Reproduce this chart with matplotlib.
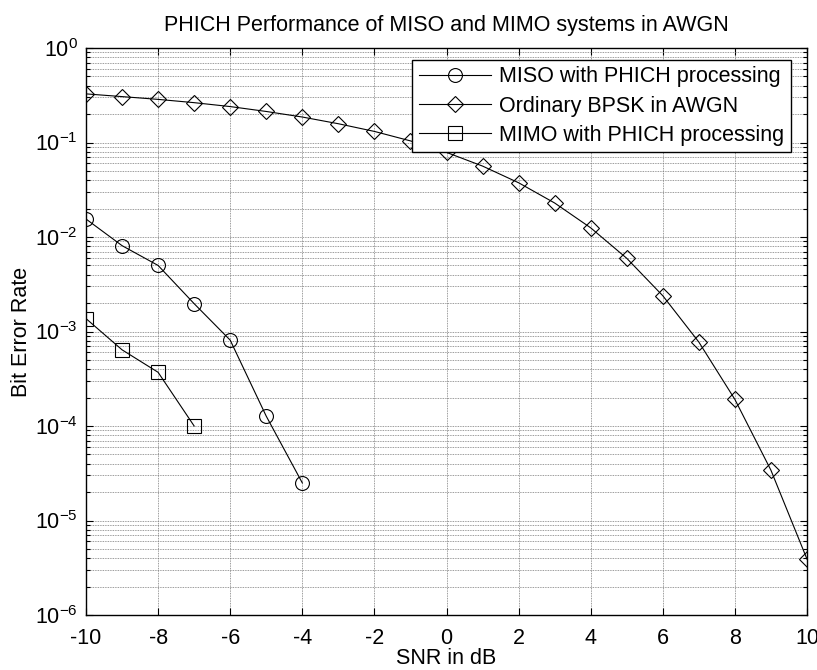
import math
import matplotlib
matplotlib.use("Agg")
import matplotlib.pyplot as plt
from matplotlib.ticker import LogLocator, FixedLocator, NullFormatter, FuncFormatter

plt.rcParams['font.family'] = ['Liberation Sans', 'DejaVu Sans']
plt.rcParams['mathtext.fontset'] = 'custom'
plt.rcParams['mathtext.rm'] = 'Liberation Sans'
plt.rcParams['mathtext.it'] = 'Liberation Sans:italic'
plt.rcParams['mathtext.bf'] = 'Liberation Sans:bold'
plt.rcParams['axes.unicode_minus'] = False

# ---- data ----
snr_bpsk = [-10, -9, -8, -7, -6, -5, -4, -3, -2, -1, 0, 1, 2, 3, 4, 5, 6, 7, 8, 9, 10]
ber_bpsk = [0.327, 0.306, 0.286, 0.264, 0.240, 0.213, 0.186, 0.158, 0.131, 0.104,
            0.0786, 0.0563, 0.0375, 0.0229, 0.0125, 0.00595, 0.00239, 0.000773,
            0.000191, 3.4e-5, 3.9e-6]
snr_miso = [-10, -9, -8, -7, -6, -5, -4]
ber_miso = [0.0155, 0.0081, 0.0050, 0.00197, 0.00081, 0.000127, 2.5e-5]
snr_mimo = [-10, -9, -8, -7]
ber_mimo = [0.00137, 0.00064, 0.00037, 0.0001]

labels = ['MISO with PHICH processing', 'Ordinary BPSK in AWGN', 'MIMO with PHICH processing']
x_ticks = [-10, -8, -6, -4, -2, 0, 2, 4, 6, 8, 10]
title = 'PHICH Performance of MISO and MIMO systems in AWGN'
xlabel = 'SNR in dB'
ylabel = 'Bit Error Rate'

FS = 15.5

fig = plt.figure(figsize=(8.17, 6.70), dpi=100)
ax = fig.add_axes([86/817, 1-615/670, (807-86)/817, (615-48)/670])

lw = 0.8
ax.semilogy(snr_miso, ber_miso, '-o', color='black', lw=lw, mfc='none', mec='black',
            ms=10, mew=0.8, label=labels[0], zorder=3)
ax.semilogy(snr_bpsk, ber_bpsk, '-D', color='black', lw=lw, mfc='none', mec='black',
            ms=8.5, mew=0.8, label=labels[1], zorder=3)
ax.semilogy(snr_mimo, ber_mimo, '-s', color='black', lw=lw, mfc='none', mec='black',
            ms=10, mew=0.8, label=labels[2], zorder=3)

ax.set_xlim(-10, 10)
ax.set_ylim(1e-6, 1)
ax.xaxis.set_major_locator(FixedLocator(x_ticks))
ax.yaxis.set_major_locator(LogLocator(base=10, numticks=10))
ax.yaxis.set_minor_locator(LogLocator(base=10, subs=range(2, 10), numticks=10))
ax.yaxis.set_minor_formatter(NullFormatter())
ax.yaxis.set_major_formatter(FuncFormatter(lambda v, p: r'$\mathregular{10^{%d}}$' % round(math.log10(v))))

gcol = '#7a7a7a'
ax.grid(True, which='major', axis='both', color=gcol, ls=(0, (1, 1)), lw=0.6)
ax.grid(True, which='minor', axis='y', color=gcol, ls=(0, (1, 1)), lw=0.6)
ax.set_axisbelow(True)

ax.tick_params(which='both', direction='in', top=True, right=True, labelsize=FS, width=0.8, color='black')
ax.tick_params(which='major', length=5, pad=6)
ax.tick_params(which='minor', length=3)
ax.tick_params(axis='x', pad=9)
for s in ax.spines.values():
    s.set_linewidth(1.0)

ax.set_title(title, fontsize=FS, pad=12)
ax.set_xlabel(xlabel, fontsize=FS, labelpad=0)
ax.set_ylabel(ylabel, fontsize=FS, labelpad=2)

leg = ax.legend(loc='upper right', bbox_to_anchor=((791-86)/721, (615-60)/567),
                borderaxespad=0, fontsize=FS, fancybox=False, framealpha=1,
                edgecolor='black', handlelength=3.35, handletextpad=0.4,
                labelspacing=0.38, borderpad=0.3)
leg.get_frame().set_linewidth(1.0)

fig.savefig('out.png', dpi=100)
